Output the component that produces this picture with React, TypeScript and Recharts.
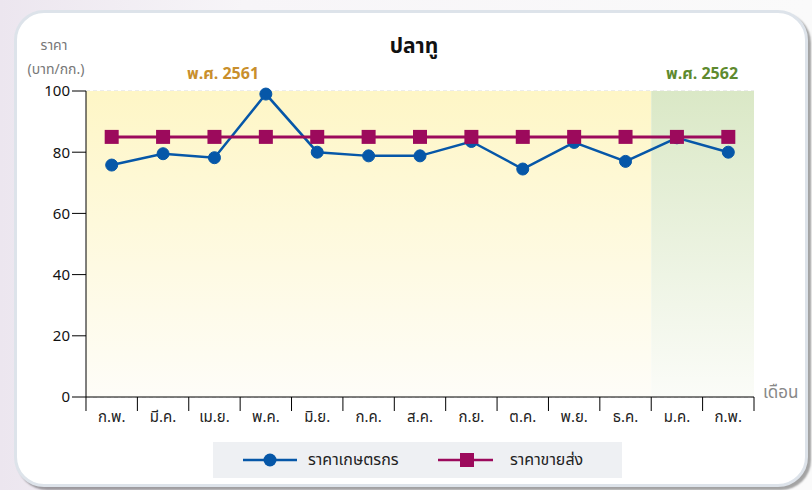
import {
  LineChart,
  Line,
  XAxis,
  YAxis,
  CartesianGrid,
  ReferenceArea,
} from "recharts";

const months = [
  "ก.พ.", "มี.ค.", "เม.ย.", "พ.ค.", "มิ.ย.", "ก.ค.", "ส.ค.",
  "ก.ย.", "ต.ค.", "พ.ย.", "ธ.ค.", "ม.ค.", "ก.พ.",
];
const farmPrice = [75.8, 79.5, 78.2, 99, 80, 78.8, 78.8, 83.5, 74.5, 83.2, 77, 84.7, 80];
const wholesalePrice = [85, 85, 85, 85, 85, 85, 85, 85, 85, 85, 85, 85, 85];
const yTicks = [0, 20, 40, 60, 80, 100];

const data = months.map((m, i) => ({
  idx: i,
  month: m,
  farm: farmPrice[i],
  wholesale: wholesalePrice[i],
}));

const thai = "'Noto Sans Thai', Tahoma, 'Noto Sans', 'DejaVu Sans', sans-serif";
const BLUE = "#0657a8";
const RED = "#9c0a5c";

// tick label centred on category, tick mark on band boundary
const MonthTick = (props: any) => {
  const { x, y, payload } = props;
  const step = 51.4;
  const i = payload.value;
  return (
    <g>
      <line x1={x - step / 2} y1={y - 8} x2={x - step / 2} y2={y + 6} stroke="#000" />
      {i === months.length - 1 && (
        <line x1={x + step / 2} y1={y - 8} x2={x + step / 2} y2={y + 6} stroke="#000" />
      )}
      <text x={x} y={y + 17} textAnchor="middle" fontSize={15} fill="#222" fontFamily={thai}>
        {months[i]}
      </text>
    </g>
  );
};

const SquareDot = (props: any) => {
  const { cx, cy, index } = props;
  return <rect key={index} x={cx - 7} y={cy - 7} width={14} height={14} fill={RED} />;
};

export default function App() {
  return (
    <div
      style={{
        position: "absolute",
        left: 0,
        top: 0,
        width: 812,
        height: 490,
        background: "linear-gradient(90deg,#ece6ef 0%,#f7f5f8 30%,#fafafa 100%)",
        fontFamily: thai,
        overflow: "hidden",
      }}
    >
      <div
        style={{
          position: "absolute",
          left: 14,
          top: 10,
          width: 788,
          height: 471,
          background: "#fff",
          border: "3px solid #dde3ea",
          borderRadius: 30,
          boxShadow: "3px 3px 2px rgba(0,0,0,0.35)",
        }}
      />
      <div style={{ position: "absolute", left: 0, width: 812, top: 31, textAlign: "center", paddingLeft: 8, fontSize: 21, fontWeight: 700, color: "#111" }}>
        ปลาทู
      </div>
      <div style={{ position: "absolute", left: 28, width: 52, top: 35, textAlign: "center", fontSize: 14, color: "#777" }}>
        ราคา
      </div>
      <div style={{ position: "absolute", left: 18, width: 76, top: 59, textAlign: "center", fontSize: 14, color: "#777" }}>
        (บาท/กก.)
      </div>
      <div style={{ position: "absolute", left: 187, top: 62, fontSize: 16, fontWeight: 700, color: "#c98f2c" }}>
        พ.ศ. 2561
      </div>
      <div style={{ position: "absolute", left: 666, top: 62, fontSize: 16, fontWeight: 700, color: "#5e8a2e" }}>
        พ.ศ. 2562
      </div>
      <div style={{ position: "absolute", left: 763, top: 380, fontSize: 17, color: "#888" }}>
        เดือน
      </div>

      <div style={{ position: "absolute", left: 0, top: 0 }}>
        <LineChart
          width={812}
          height={490}
          data={data}
          margin={{ top: 91, right: 58, bottom: 63, left: 26 }}
        >
          <defs>
            <linearGradient id="yellowBg" x1="0" y1="0" x2="0" y2="1">
              <stop offset="0%" stopColor="#fef6c6" />
              <stop offset="100%" stopColor="#fefdf8" />
            </linearGradient>
            <linearGradient id="greenBg" x1="0" y1="0" x2="0" y2="1">
              <stop offset="0%" stopColor="#dae8c6" />
              <stop offset="100%" stopColor="#fbfcf8" />
            </linearGradient>
          </defs>
          <ReferenceArea x1={-0.5} x2={10.5} y1={0} y2={100} fill="url(#yellowBg)" fillOpacity={1} stroke="none" />
          <ReferenceArea x1={10.5} x2={12.5} y1={0} y2={100} fill="url(#greenBg)" fillOpacity={1} stroke="none" />
          <CartesianGrid vertical={false} stroke="#d8d8d8" strokeDasharray="4 3" />
          <XAxis
            dataKey="idx"
            type="number"
            domain={[-0.5, 12.5]}
            ticks={months.map((_, i) => i)}
            interval={0}
            height={30}
            tickLine={false}
            axisLine={{ stroke: "#000" }}
            tick={<MonthTick />}
          />
          <YAxis
            domain={[0, 100]}
            ticks={yTicks}
            width={60}
            axisLine={{ stroke: "#000" }}
            tickLine={{ stroke: "#000" }}
            tickSize={14}
            tick={{ fill: "#111", fontSize: 15, fontFamily: thai }}
          />
          <Line
            dataKey="farm"
            stroke={BLUE}
            strokeWidth={2.5}
            dot={{ r: 6, fill: BLUE, stroke: BLUE, strokeWidth: 1 }}
            isAnimationActive={false}
          />
          <Line
            dataKey="wholesale"
            stroke={RED}
            strokeWidth={3}
            dot={<SquareDot />}
            isAnimationActive={false}
          />
        </LineChart>
      </div>

      <div
        style={{
          position: "absolute",
          left: 213,
          top: 442,
          width: 409,
          height: 36,
          background: "#eef0f3",
        }}
      >
        <svg width={409} height={36} style={{ position: "absolute", left: 0, top: 0 }}>
          <line x1={30} y1={18} x2={84} y2={18} stroke={BLUE} strokeWidth={2.5} />
          <circle cx={57} cy={18} r={6.5} fill={BLUE} />
          <line x1={225} y1={18} x2={280} y2={18} stroke={RED} strokeWidth={2.5} />
          <rect x={247} y={11} width={14} height={14} fill={RED} />
        </svg>
        <div style={{ position: "absolute", left: 95, top: 6, fontSize: 16, color: "#222" }}>ราคาเกษตรกร</div>
        <div style={{ position: "absolute", left: 297, top: 6, fontSize: 16, color: "#222" }}>ราคาขายส่ง</div>
      </div>
    </div>
  );
}
